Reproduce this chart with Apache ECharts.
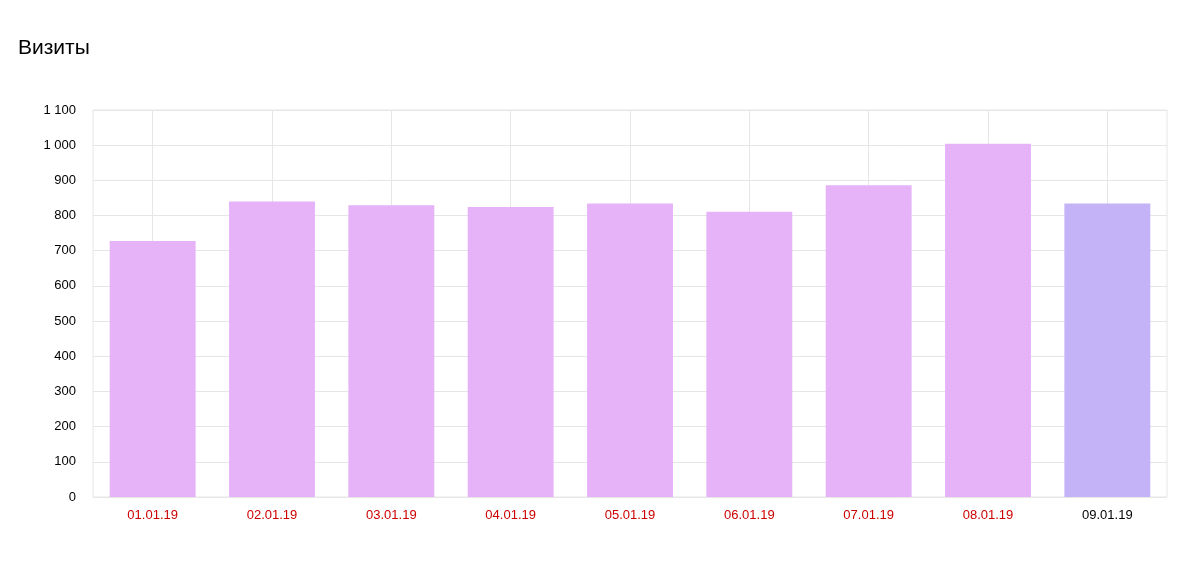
<!DOCTYPE html>
<html><head><meta charset="utf-8">
<script src="https://cdn.jsdelivr.net/npm/echarts@6/dist/echarts.min.js"></script>
<style>html,body{margin:0;padding:0;background:#fff}#c{width:1200px;height:563px}</style>
</head><body><div id="c"></div>
<script>
const categories = ['01.01.19','02.01.19','03.01.19','04.01.19','05.01.19','06.01.19','07.01.19','08.01.19','09.01.19'];
const visits = [728, 840, 829, 824, 834, 811, 886, 1004, 834];
const holidays = [true, true, true, true, true, true, true, true, false];
const yTicks = [0,100,200,300,400,500,600,700,800,900,1000,1100];

const chart = echarts.init(document.getElementById('c'), null, {renderer:'canvas'});
chart.setOption({
  animation:false,
  title:{text:'Визиты', left:13, top:33, textStyle:{fontFamily:'Liberation Sans, Arial, sans-serif', fontSize:21, fontWeight:'normal', color:'#000'}},
  grid:{left:93, right:33, top:110, bottom:66, show:true, borderColor:'#e6e6e6', borderWidth:1},
  xAxis:{type:'category', data:categories,
    axisLine:{show:false}, axisTick:{show:false},
    splitLine:{show:true, alignWithLabel:true, lineStyle:{color:'#e6e6e6', width:1}},
    axisLabel:{margin:12, fontFamily:'Liberation Sans, Arial, sans-serif', fontSize:13,
      color:(v,i)=> holidays[i] ? '#cc0000' : '#000'}},
  yAxis:{type:'value', min:0, max:1100, interval:100,
    axisLine:{show:false}, axisTick:{show:false},
    splitLine:{lineStyle:{color:'#e6e6e6', width:1}},
    axisLabel:{margin:17, fontFamily:'Liberation Sans, Arial, sans-serif', fontSize:13, color:'#000',
      formatter:v=> yTicks.includes(v) ? String(v).replace(/\B(?=(\d{3})+(?!\d))/g,' ') : ''}},
  series:[{type:'bar', barWidth:'72%',
    data: visits.map((v,i)=>({value:v, itemStyle:{color: holidays[i] ? '#e6b3f8' : '#c4b3f7'}}))}]
});
</script></body></html>
